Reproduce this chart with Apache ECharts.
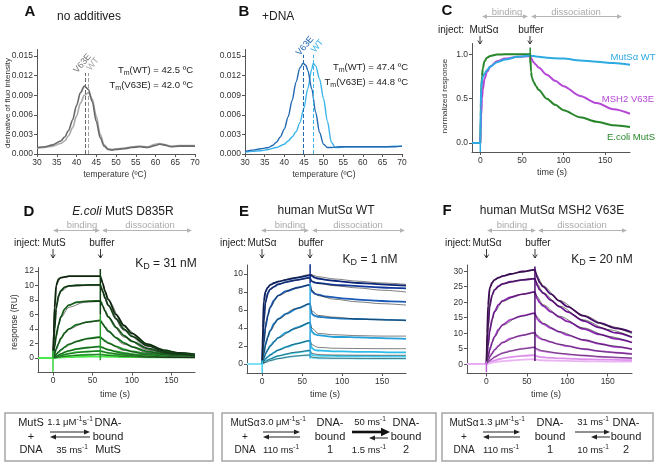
<!DOCTYPE html>
<html><head><meta charset="utf-8">
<script src="https://cdn.jsdelivr.net/npm/echarts@6/dist/echarts.min.js"></script>
<style>html,body{margin:0;padding:0;background:#fff}#c{width:658px;height:463px}</style>
</head><body><div id="c"></div>
<script>
// ---------- Panel A: no additives (derivative of fluorescence) ----------
const tempA = [30,32,34,36,37,38,39,40,41,42,43,44,45,46,47,48,49,50,52,54,56,58,60,61,62,64,66,68,70];
const derivA_V63E = [0.0010,0.0011,0.0014,0.0020,0.0026,0.0036,0.0052,0.0074,0.0094,0.0104,0.0099,0.0080,0.0050,0.0025,0.0012,0.0007,0.0006,0.0007,0.0008,0.0010,0.0011,0.0010,0.0013,0.0015,0.0014,0.0011,0.0012,0.0012,0.0012];
const derivA_WT   = [0.0009,0.0010,0.0012,0.0016,0.0020,0.0028,0.0040,0.0058,0.0078,0.0090,0.0094,0.0084,0.0058,0.0030,0.0014,0.0008,0.0007,0.0008,0.0009,0.0011,0.0012,0.0011,0.0015,0.0016,0.0015,0.0012,0.0013,0.0013,0.0013];
const tmLineA = {V63E: 42.1, WT: 42.9, top: 0.0124};
// ---------- Panel B: +DNA ----------
const tempB_V63E  = [30,32,34,36,37,38,39,40,41,42,43,44,44.8,45.5,46,47,48,49,50,51,52,54,56,58,60,62,64,66,68,70];
const derivB_V63E = [0.0004,0.0006,0.0008,0.0010,0.0013,0.0018,0.0026,0.0038,0.0057,0.0082,0.0110,0.0132,0.0139,0.0136,0.0128,0.0100,0.0064,0.0033,0.0015,0.0010,0.0010,0.0011,0.0011,0.0011,0.0011,0.0011,0.0011,0.0011,0.0011,0.0012];
const tempB_WT    = [30,32,34,36,38,40,41,42,43,44,45,46,47,47.4,48,49,50,51,52,53,54,56,58,60,62,64,66,68,70];
const derivB_WT   = [0.0003,0.0004,0.0005,0.0007,0.0010,0.0015,0.0020,0.0026,0.0034,0.0048,0.0070,0.0100,0.0130,0.0139,0.0135,0.0115,0.0085,0.0050,0.0018,0.0010,0.0010,0.0011,0.0011,0.0011,0.0011,0.0011,0.0011,0.0012,0.0012];
const tmLineB = {V63E: 44.8, WT: 47.4, top: 0.0152};
const tempTicks = [30,35,40,45,50,55,60,65,70];
const derivTicks = [0,0.003,0.006,0.009,0.012,0.015];
// ---------- Panel C: normalized response ----------
const tC_assoc = [0,0.5,1,2,3,5,8,12,20,30,45,60];
const tC_diss  = [61,62,64,67,70,80,90,100,120,140,160,180];
const C_ecoli_assoc = [0,0.3,0.55,0.75,0.84,0.92,0.96,0.98,0.995,1.0,1.0,1.0];
const C_ecoli_diss  = [0.80,0.74,0.69,0.64,0.60,0.50,0.43,0.37,0.29,0.24,0.20,0.18];
const C_v63e_assoc  = [0,0.15,0.3,0.5,0.6,0.72,0.8,0.86,0.92,0.95,0.97,0.98];
const C_v63e_diss   = [0.96,0.94,0.91,0.88,0.85,0.77,0.70,0.64,0.53,0.45,0.38,0.33];
const C_wt_assoc    = [0,0.4,0.62,0.7,0.74,0.78,0.82,0.86,0.91,0.94,0.97,0.985];
const C_wt_diss     = [0.985,0.98,0.98,0.975,0.97,0.96,0.955,0.95,0.93,0.915,0.90,0.88];
const timeTicks = [0,50,100,150];
// ---------- SPR sensorgrams D/E/F ----------
const tAssoc = [0,1,2,4,7,10,15,20,30,45,60];
const tDiss  = [61,63,66,70,80,90,100,120,140,160,180];
const tFit   = [0,2,5,10,20,40,60,62,70,90,120,150,180];
const D_assoc = [
 [0,3.5,7.0,10.0,10.9,11.1,11.2,11.3,11.3,11.3,11.3],
 [0,2.0,4.0,6.8,8.6,9.3,9.8,9.95,10.05,10.1,10.1],
 [0,0.8,1.6,3.0,4.6,5.7,6.8,7.3,7.7,7.85,7.9],
 [0,0.3,0.6,1.2,2.0,2.7,3.5,4.0,4.6,5.0,5.2],
 [0,0.1,0.25,0.5,0.8,1.1,1.5,1.85,2.3,2.7,2.9],
 [0,0.05,0.1,0.25,0.4,0.55,0.8,1.0,1.25,1.45,1.6],
 [0,0.02,0.05,0.15,0.25,0.35,0.5,0.6,0.8,0.9,1.0],
 [0,0.02,0.03,0.07,0.12,0.17,0.25,0.3,0.38,0.45,0.5],
 [0,0.01,0.02,0.03,0.05,0.07,0.1,0.12,0.15,0.18,0.2]];
const D_diss = [
 [11.0,10.3,9.2,8.1,6.0,4.5,3.4,1.9,1.1,0.7,0.5],
 [9.8,9.2,8.3,7.3,5.4,4.0,3.0,1.7,1.0,0.65,0.45],
 [7.7,7.2,6.5,5.7,4.2,3.1,2.3,1.3,0.8,0.55,0.4],
 [5.05,4.7,4.25,3.75,2.8,2.1,1.55,0.9,0.6,0.45,0.35],
 [2.8,2.6,2.35,2.1,1.6,1.2,0.9,0.6,0.45,0.35,0.3],
 [1.55,1.45,1.3,1.15,0.9,0.7,0.55,0.4,0.3,0.25,0.25],
 [0.95,0.9,0.8,0.72,0.58,0.47,0.38,0.3,0.25,0.2,0.2],
 [0.48,0.45,0.42,0.38,0.32,0.27,0.23,0.2,0.18,0.16,0.15],
 [0.2,0.19,0.18,0.17,0.15,0.13,0.12,0.1,0.1,0.1,0.1]];
const D_fit = [
 [0,6.5,10.3,11.1,11.25,11.25,11.25,10.5,8.0,4.3,1.6,0.7,0.4],
 [0,3.8,7.6,9.2,9.9,10.0,10.0,9.4,7.2,3.8,1.4,0.6,0.35],
 [0,1.5,3.8,5.6,7.0,7.7,7.8,7.3,5.6,2.9,1.1,0.5,0.3],
 [0,0.6,1.6,2.8,4.0,4.9,5.15,4.8,3.6,1.9,0.75,0.35,0.2],
 [0,0.25,0.65,1.2,1.95,2.6,2.85,2.65,2.0,1.05,0.45,0.2,0.12],
 [0,0.12,0.3,0.6,1.0,1.4,1.55,1.45,1.1,0.6,0.25,0.12,0.08],
 [0,0.06,0.15,0.32,0.58,0.85,0.97,0.9,0.7,0.38,0.16,0.08,0.05],
 [0,0.03,0.07,0.15,0.28,0.42,0.48,0.45,0.35,0.2,0.09,0.05,0.03]];
const E_assoc = [
 [0,4.0,7.0,8.0,8.5,8.8,9.0,9.15,9.35,9.6,9.85],
 [0,2.5,4.8,6.8,7.9,8.3,8.6,8.85,9.1,9.35,9.6],
 [0,1.2,2.4,4.0,5.4,6.3,7.1,7.6,8.1,8.5,8.8],
 [0,0.6,1.2,2.1,3.0,3.7,4.5,5.0,5.6,6.2,6.7],
 [0,0.3,0.6,1.1,1.6,2.0,2.5,2.9,3.5,4.1,4.6],
 [0,0.15,0.3,0.55,0.8,1.0,1.3,1.55,1.9,2.3,2.6],
 [0,0.08,0.15,0.3,0.45,0.55,0.75,0.9,1.1,1.3,1.5],
 [0,0.05,0.1,0.2,0.3,0.38,0.5,0.6,0.75,0.9,1.0]];
const E_diss = [
 [9.9,9.75,9.6,9.5,9.35,9.25,9.15,9.0,8.9,8.8,8.7],
 [9.3,9.15,9.05,9.0,8.9,8.8,8.75,8.65,8.55,8.45,8.4],
 [8.3,8.0,7.8,7.7,7.5,7.4,7.3,7.15,7.05,6.95,6.9],
 [5.9,5.5,5.35,5.25,5.15,5.1,5.05,5.0,4.95,4.9,4.85],
 [3.9,3.5,3.3,3.2,3.1,3.0,3.0,2.95,2.9,2.85,2.8],
 [2.0,1.7,1.55,1.5,1.45,1.4,1.4,1.35,1.35,1.3,1.3],
 [1.15,1.0,0.95,0.92,0.9,0.9,0.88,0.87,0.86,0.85,0.85],
 [0.75,0.68,0.65,0.64,0.63,0.62,0.62,0.61,0.6,0.6,0.6]];
const E_fit = [
 [0,6.8,8.3,8.8,9.2,9.6,9.95,9.9,9.7,9.45,9.2,9.0,8.85],
 [0,4.5,7.2,8.3,8.9,9.3,9.55,9.2,8.95,8.7,8.45,8.2,8.0],
 [0,2.3,4.7,6.3,7.6,8.4,8.8,8.2,7.6,7.2,6.9,6.7,6.55],
 [0,1.1,2.5,3.7,5.0,6.1,6.7,5.9,5.4,5.2,5.0,4.9,4.85],
 [0,0.6,1.3,2.0,2.9,3.9,4.6,4.0,3.4,3.25,3.15,3.1,3.1],
 [0,0.3,0.65,1.0,1.55,2.2,2.6,2.15,1.85,1.75,1.72,1.7,1.7],
 [0,0.15,0.35,0.55,0.9,1.3,1.5,1.2,1.05,1.0,0.98,0.97,0.97],
 [0,0.1,0.2,0.38,0.6,0.88,1.0,0.78,0.68,0.64,0.63,0.62,0.62]];
const F_assoc = [
 [0,10,19,24.5,26.3,27.2,27.9,28.4,29.1,29.9,30.5],
 [0,6,12,18.5,22.3,24.0,25.2,25.9,26.6,27.2,27.6],
 [0,3,6,10.5,14.5,17.0,19.2,20.4,21.6,22.6,23.3],
 [0,1.2,2.4,4.5,7.0,8.9,11.2,12.7,14.4,15.7,16.5],
 [0,0.6,1.2,2.3,3.5,4.6,6.0,7.0,8.3,9.4,10.2],
 [0,0.3,0.6,1.1,1.7,2.3,3.0,3.6,4.3,5.0,5.5],
 [0,0.15,0.3,0.55,0.9,1.2,1.6,1.9,2.3,2.7,2.9],
 [0,0.08,0.15,0.3,0.5,0.65,0.85,1.0,1.2,1.45,1.6]];
const F_diss = [
 [29.5,27.8,26.3,25.0,22.6,20.4,18.6,15.6,13.3,11.6,10.3],
 [26.8,25.3,24.0,22.9,20.6,18.6,16.9,14.0,11.8,10.1,8.7],
 [22.4,21.0,19.8,18.8,16.9,15.2,13.8,11.4,9.6,8.2,7.0],
 [15.6,14.5,13.7,13.0,11.6,10.4,9.4,7.8,6.6,5.6,4.9],
 [9.5,8.8,8.3,7.9,7.1,6.4,5.8,4.9,4.2,3.7,3.3],
 [5.1,4.7,4.4,4.2,3.8,3.5,3.2,2.8,2.4,2.1,1.9],
 [2.7,2.5,2.35,2.25,2.05,1.9,1.8,1.6,1.5,1.4,1.3],
 [1.5,1.4,1.3,1.25,1.15,1.1,1.05,0.95,0.9,0.85,0.8]];
const F_fit = [
 [0,18,25.0,27.3,28.5,29.6,30.3,28.8,25.3,20.6,15.8,12.4,9.8],
 [0,11.5,20.5,24.0,25.9,27.1,27.6,26.3,23.1,18.8,14.3,11.2,8.8],
 [0,5.8,12.2,16.8,20.3,22.4,23.2,22.0,19.2,15.5,11.7,9.0,7.0],
 [0,2.3,5.5,8.9,12.6,15.3,16.4,15.4,13.2,10.5,7.9,6.1,4.8],
 [0,1.1,2.7,4.6,7.0,9.1,10.1,9.4,8.0,6.4,4.9,3.9,3.2],
 [0,0.55,1.3,2.3,3.6,4.8,5.4,5.0,4.3,3.5,2.8,2.3,2.0]];
const D_ticks = [0,2,4,6,8,10,12];
const E_ticks = [0,2,4,6,8,10];
const F_ticks = [0,5,10,15,20,25,30];
// injection artefact spikes (time, response)
const spikeD = [[[0,-1.9],[0,1.0]],[[60,-0.3],[60,6]],[[60,6],[60,12.3]]];
const spikeE = [[[0,-1.0],[0,0.4]],[[60,0.6],[60,9]],[[60,9],[60,11.1]]];
const spikeF = [[[0,-2.6],[0,1.0]],[[60,1.0],[60,31.5]]];
const spikeC = [[[0,-0.1],[0,0.02]],[[60,0.9],[60,1.075]]];

const FF = '"Liberation Sans", Arial, Helvetica, sans-serif';
const FN = '"Liberation Sans Narrow", "Arial Narrow", "Liberation Sans", sans-serif';
const colD = ['#0a2a0a','#0f4514','#145e1a','#197620','#1e8e26','#23a52c','#2abd32','#35d43a','#4ae84a'];
const colE = ['#0b2578','#123a9e','#1a5ab6','#1f7cc6','#24a0da','#2ebce8','#44d0f0','#7ee2f6'];
const colF = ['#4b0c6b','#6a1590','#8a25b0','#a43ac8','#bb52da','#cc6fe4','#dc90ec','#eab4f3'];

function xy(ts, vs){ return ts.map((t,i)=>[t, vs[i]]); }
function spr(t0, a, d){ return [[t0,0]].concat(xy(tAssoc,a), xy(tDiss,d)); }
function ln(gi, data, color, w, z, extra){
  return Object.assign({type:'line', xAxisIndex:gi, yAxisIndex:gi, data, symbol:'none', showSymbol:false,
    smooth:0.3, smoothMonotone:'x', lineStyle:{color, width:w}, z:z||2, silent:true, animation:false}, extra||{});
}
function xAx(gi,min,max,ticks,fmt){
  return {type:'value', gridIndex:gi, min, max, splitLine:{show:false},
    axisLine:{onZero:false, lineStyle:{color:'#555', width:1}},
    axisTick:{customValues:ticks, length:3, lineStyle:{color:'#555'}},
    axisLabel:{customValues:ticks, fontSize:8.5, color:'#333', margin:4, fontFamily:FF, formatter:fmt}};
}
function yAx(gi,min,max,ticks,fmt){ return xAx(gi,min,max,ticks,fmt); }

const series = [];
// A
series.push(ln(0, xy(tempA, derivA_WT), '#a9a9a9', 1.6, 2, {markLine:{silent:true, symbol:'none', label:{show:false},
  lineStyle:{color:'#a0a0a0', type:[4,2], width:1}, data:[[{coord:[tmLineA.WT,0]},{coord:[tmLineA.WT,tmLineA.top]}]]}}));
series.push(ln(0, xy(tempA, derivA_V63E), '#6a6a6a', 1.6, 3, {markLine:{silent:true, symbol:'none', label:{show:false},
  lineStyle:{color:'#6a6a6a', type:[4,2], width:1}, data:[[{coord:[tmLineA.V63E,0]},{coord:[tmLineA.V63E,tmLineA.top]}]]}}));
// B
series.push(ln(1, xy(tempB_WT, derivB_WT), '#3cb4ea', 1.4, 2, {markLine:{silent:true, symbol:'none', label:{show:false},
  lineStyle:{color:'#3cb4ea', type:[4,2], width:1}, data:[[{coord:[tmLineB.WT,0]},{coord:[tmLineB.WT,tmLineB.top]}]]}}));
series.push(ln(1, xy(tempB_V63E, derivB_V63E), '#2268b2', 1.4, 3, {markLine:{silent:true, symbol:'none', label:{show:false},
  lineStyle:{color:'#2268b2', type:[4,2], width:1}, data:[[{coord:[tmLineB.V63E,0]},{coord:[tmLineB.V63E,tmLineB.top]}]]}}));
// C
series.push(ln(2, xy(tC_assoc,C_ecoli_assoc).concat(xy(tC_diss,C_ecoli_diss)), '#27862a', 2, 2));
series.push(ln(2, xy(tC_assoc,C_v63e_assoc).concat(xy(tC_diss,C_v63e_diss)), '#b548d6', 2, 3));
series.push(ln(2, [[-10,0]].concat(xy(tC_assoc,C_wt_assoc), xy(tC_diss,C_wt_diss)), '#2eaae2', 2, 4));
spikeC.forEach((s,i)=>series.push(ln(2, s, ['#2eaae2','#27862a'][i], 1.5, 5, {smooth:false})));
// D
D_assoc.forEach((a,i)=>series.push(ln(3, spr(-19,a,D_diss[i]), colD[i], 1.8, 2)));
D_fit.forEach(f=>series.push(ln(3, xy(tFit,f), '#1a1a1a', 0.7, 3, {lineStyle:{color:'#1a1a1a',width:0.7,opacity:0.8}})));
spikeD.forEach((s,i)=>series.push(ln(3, s, ['#3ad43c','#2aa030','#0f3f12'][i], 1.5, 4, {smooth:false})));
// E
E_assoc.forEach((a,i)=>series.push(ln(4, spr(-19,a,E_diss[i]), colE[i], 1.8, 2)));
E_fit.forEach(f=>series.push(ln(4, xy(tFit,f), '#1a1a1a', 0.7, 3, {lineStyle:{color:'#1a1a1a',width:0.7,opacity:0.8}})));
spikeE.forEach((s,i)=>series.push(ln(4, s, ['#3dd0f0','#2aa6e0','#0d2c8a'][i], 1.5, 4, {smooth:false})));
// F
F_assoc.forEach((a,i)=>series.push(ln(5, spr(-24,a,F_diss[i]), colF[i], 1.8, 2)));
F_fit.forEach(f=>series.push(ln(5, xy(tFit,f), '#1a1a1a', 0.7, 3, {lineStyle:{color:'#1a1a1a',width:0.7,opacity:0.8}})));
spikeF.forEach((s,i)=>series.push(ln(5, s, ['#c060d8','#4b0c6b'][i], 1.5, 4, {smooth:false})));

const grids = [
  {left:37, top:49.5, width:158, height:104.5},
  {left:245, top:49.5, width:157, height:104.5},
  {left:472, top:43.5, width:158, height:108.5},
  {left:38, top:267.5, width:157, height:105},
  {left:247, top:265, width:159, height:108},
  {left:467, top:265, width:165, height:108.5}
].map(g=>Object.assign({containLabel:false, outerBoundsMode:'none'}, g));

const f3 = v=>v.toFixed(3), f1 = v=>v.toFixed(1), f0 = v=>String(v);
const xAxes = [xAx(0,30,70,tempTicks,f0), xAx(1,30,70,tempTicks,f0), xAx(2,-10,180,timeTicks,f0),
  xAx(3,-19,180,timeTicks,f0), xAx(4,-19,180,timeTicks,f0), xAx(5,-24,180,timeTicks,f0)];
const yAxes = [yAx(0,0,0.016,derivTicks,f3), yAx(1,0,0.016,derivTicks,f3), yAx(2,-0.1,1.12,[0,0.5,1],f1),
  yAx(3,-2,12.5,D_ticks,f0), yAx(4,-1,11,E_ticks,f0), yAx(5,-3,32,F_ticks,f0)];

// ---------- graphic annotations ----------
const G = [];
function T(s,x,y,size,o){
  o=o||{};
  const st={text:s,fontSize:size,fontFamily:o.family||FF,fill:o.fill||'#222',fontWeight:o.bold?'bold':'normal',fontStyle:o.italic?'italic':'normal',
    align:o.align||'center',verticalAlign:'middle',textAlign:o.align||'center',textVerticalAlign:'middle'};
  if(o.rich) st.rich=o.rich;
  G.push({type:'text',x,y,rotation:o.rot||0,silent:true,z:100,style:st});
}
function L(x1,y1,x2,y2,c,w){ G.push({type:'line',shape:{x1,y1,x2,y2},style:{stroke:c,lineWidth:w||1},silent:true,z:100}); }
function head(x,y,ux,uy,hl,hw,c){ const nx=-uy,ny=ux,bx=x-ux*hl,by=y-uy*hl;
  G.push({type:'polygon',shape:{points:[[x,y],[bx+nx*hw,by+ny*hw],[bx-nx*hw,by-ny*hw]]},style:{fill:c},silent:true,z:100}); }
function arrowH(x1,x2,y,c,w,hl,hw){ const dir=x2>x1?1:-1; L(x1,y,x2-dir*hl*0.8,y,c,w); head(x2,y,dir,0,hl,hw,c); }
function dbl(x1,x2,y){ const c='#b4b4b4'; L(x1+4,y,x2-4,y,c,1); head(x1,y,-1,0,5,2.3,c); head(x2,y,1,0,5,2.3,c); }
function inj(x,y1,y2){ L(x,y1,x,y2,'#222',0.9);
  G.push({type:'polyline',shape:{points:[[x-2.2,y2-3.5],[x,y2],[x+2.2,y2-3.5]]},style:{stroke:'#222',lineWidth:0.9,fill:null},silent:true,z:100}); }
const richSub = (sz,fill)=>({t:{fontSize:sz,fontFamily:FF,fill:fill||'#222',lineHeight:sz+3},
  s:{fontSize:Math.round(sz*0.72),fontFamily:FF,fill:fill||'#222',lineHeight:5,verticalAlign:'bottom'}});
const richSup = {n:{fontSize:9.5,fontFamily:FN,fill:'#222',lineHeight:12},
  p:{fontSize:6.5,fontFamily:FN,fill:'#222',lineHeight:5,verticalAlign:'top'}};

// panel letters
[['A',30,12],['B',244,12],['C',447,11],['D',29,212],['E',244,212],['F',447,211]].forEach(p=>T(p[0],p[1],p[2],15,{bold:true,fill:'#111'}));
// titles
T('no additives',57,17,12,{align:'left'});
T('+DNA',262,17,12,{align:'left'});
T('{i|E.coli}{n| MutS D835R}',123,212,12,{rich:{i:{fontSize:12,fontFamily:FF,fontStyle:'italic',fill:'#222'},n:{fontSize:12,fontFamily:FF,fill:'#222'}}});
T('human MutSα WT',326,211,12);
T('human MutSα MSH2 V63E',552,211,12);
// axis names
T('derivative of fluo intensity',8,103,8,{rot:Math.PI/2,fill:'#333'});
T('temperature (ºC)',115,175,8.5,{fill:'#333'});
T('temperature (ºC)',324,175,8.5,{fill:'#333'});
T('normalized response',445,96,8,{rot:Math.PI/2,fill:'#333'});
T('time (s)',552,173,9,{fill:'#333'});
T('response (RU)',15,322,8.5,{rot:Math.PI/2,fill:'#333'});
T('time (s)',115,395,9,{fill:'#333'});
T('time (s)',325,395,9,{fill:'#333'});
T('time (s)',546,395,9,{fill:'#333'});
// Tm texts
T('{t|T}{s|m}{t|(WT) = 42.5 ºC}',193,70,9.5,{align:'right',rich:richSub(9.5)});
T('{t|T}{s|m}{t|(V63E) = 42.0 ºC}',193,85,9.5,{align:'right',rich:richSub(9.5)});
T('{t|T}{s|m}{t|(WT) = 47.4 ºC}',408,67,9.5,{align:'right',rich:richSub(9.5)});
T('{t|T}{s|m}{t|(V63E) = 44.8 ºC}',408,82,9.5,{align:'right',rich:richSub(9.5)});
// rotated variant labels
T('V63E',82.5,63.5,9,{rot:50*Math.PI/180,fill:'#777'});
T('WT',93,64,9,{rot:50*Math.PI/180,fill:'#aaa'});
T('V63E',305,46,9,{rot:50*Math.PI/180,fill:'#2268b2'});
T('WT',317.5,46,9,{rot:50*Math.PI/180,fill:'#3cb4ea'});
// C annotations
T('binding',507,12.5,9.5,{fill:'#aaa'}); T('dissociation',576,12.5,9.5,{fill:'#aaa'});
dbl(482,528,16.5); dbl(531,622,16.5);
T('inject:',451,30,10); T('MutSα',484,30,10); T('buffer',531,30,10);
inj(480,36,44); inj(530,36,44);
T('MutSα WT',633,57,9.5,{fill:'#2eaae2'});
T('MSH2 V63E',628,99,9.5,{fill:'#b548d6'});
T('E.coli MutS',631,137,9.5,{fill:'#27862a'});
// D/E/F annotations
const rows = [
  {b:[53,100], d:[102,192], bt:82, dt:150, inj:[27,54,102], injL:'MutS', ax:[53,100.5], kd:['31',166,264]},
  {b:[261,309], d:[312,405], bt:290, dt:358, inj:[233,262,311], injL:'MutSα', ax:[262,310], kd:['1',370,260]},
  {b:[487,536], d:[538,627], bt:512, dt:582, inj:[458,487,538], injL:'MutSα', ax:[486.5,535], kd:['20',602,260]}];
rows.forEach(r=>{
  T('binding',r.bt,225,9.5,{fill:'#aaa'}); T('dissociation',r.dt,225,9.5,{fill:'#aaa'});
  dbl(r.b[0],r.b[1],230.5); dbl(r.d[0],r.d[1],230.5);
  T('inject:',r.inj[0],243,10); T(r.injL,r.inj[1],243,10); T('buffer',r.inj[2],243,10);
  inj(r.ax[0],249,258); inj(r.ax[1],249,258);
  T('{t|K}{s|D}{t| = '+r.kd[0]+' nM}',r.kd[1],r.kd[2],12,{rich:richSub(12)});
});
// bottom kinetic schemes
const boxStroke='#a5a5a5';
[[5,208],[222,214],[442,211]].forEach(b=>G.push({type:'rect',shape:{x:b[0],y:413,width:b[1],height:48},style:{stroke:boxStroke,lineWidth:1.5,fill:'rgba(0,0,0,0)'},silent:true,z:99}));
const r1=423,r2=437,r3=450;
function col3(x,a,b,c,sz){ sz=sz||11; T(a,x,r1,sz); T(b,x,r2,sz); T(c,x,r3,sz); }
function rate(cx,y,num,unit,twoExp){
  const s = twoExp ? '{n|'+num+' '+unit+'}{p|-1}{n|s}{p|-1}' : '{n|'+num+' '+unit+'}{p|-1}';
  T(s,cx,y,9.5,{rich:richSup});
}
// D box
col3(31,'MutS','+','DNA'); rate(70,r1-1,'1.1','μM',true); rate(72,r3,'35','ms');
arrowH(50,90,432,'#222',1,6,2.5); arrowH(90,50,437,'#222',1,6,2.5);
col3(108,'DNA-','bound','MutS');
// E box
col3(245,'MutSα','+','DNA',10); rate(283,r1-1,'3.0','μM',true); rate(281,r3,'110','ms');
arrowH(263,300,432,'#222',1,6,2.5); arrowH(300,263,437,'#222',1,6,2.5);
col3(330,'DNA-','bound','1');
rate(370,r1-1,'50','ms'); rate(369,r3,'1.5','ms');
arrowH(352,390,432,'#111',2.6,9,4.2); arrowH(388,369,438,'#222',1,6,2.5);
col3(406,'DNA-','bound','2');
// F box
col3(464,'MutSα','+','DNA',10); rate(502,r1-1,'1.3','μM',true); rate(501,r3,'110','ms');
arrowH(483,520,432,'#222',1,6,2.5); arrowH(520,483,437,'#222',1,6,2.5);
col3(550,'DNA-','bound','1');
rate(593,r1-1,'31','ms'); rate(593,r3,'10','ms');
arrowH(575,610,432,'#222',1,6,2.5); arrowH(610,591,437,'#222',1,6,2.5);
col3(626,'DNA-','bound','2');

const chart = echarts.init(document.getElementById('c'), null, {renderer:'canvas', width:658, height:463});
chart.setOption({animation:false, backgroundColor:'#fff', grid:grids, xAxis:xAxes, yAxis:yAxes, series, graphic:{elements:G}});
</script></body></html>
